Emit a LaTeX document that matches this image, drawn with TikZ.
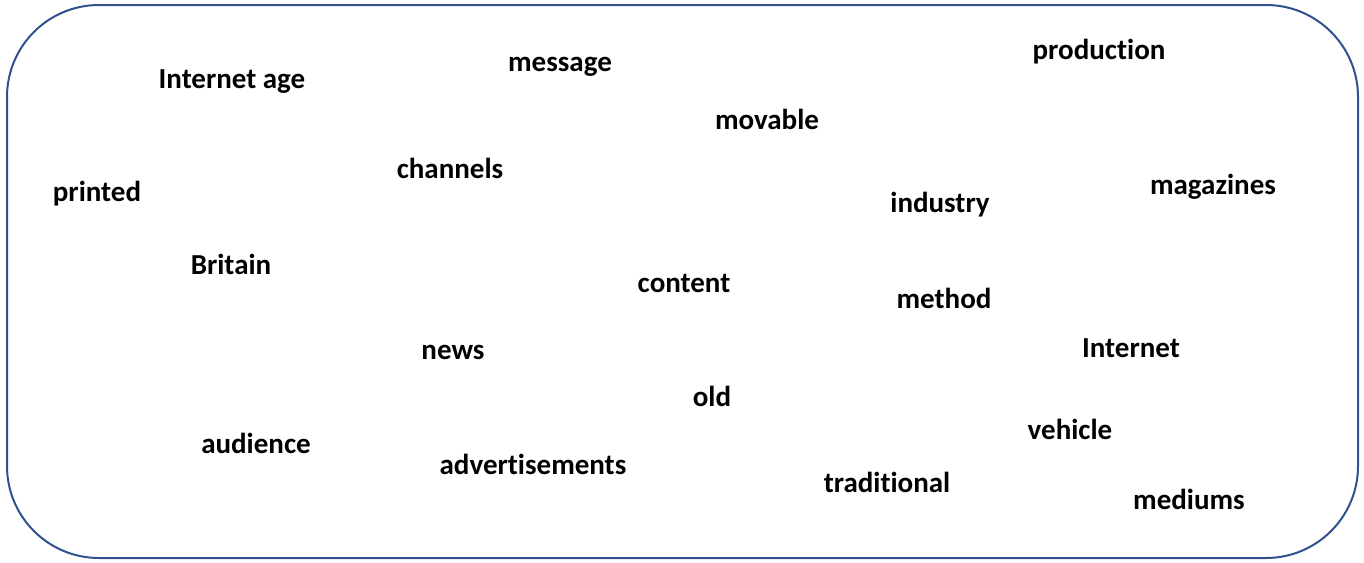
\documentclass[tikz,border=0pt]{standalone}
\usepackage{fontspec}
\setmainfont{Carlito}[Ligatures=NoCommon]
\usetikzlibrary{calc}

\definecolor{frameblue}{RGB}{47,82,143}

\begin{document}
\begin{tikzpicture}[x=1pt,y=-1pt]

		\tikzset{WordStyle/.style =
				{inner sep=0pt, text height=18pt, text depth=0pt,
				 font=\fontsize{29}{34}\selectfont\bfseries, text=black}
		}

		%frame
		\useasboundingbox (0,0) rectangle (1364,562);
		\draw[color=frameblue, line width=2pt, rounded corners=92pt] (7,5) rectangle (1358,558);

		%words
		\node[WordStyle] (internetage) at (232,79) {Internet age};
		\node[WordStyle] (message) at (560,62) {message};
		\node[WordStyle] (production) at (1099,50) {production};
		\node[WordStyle] (movable) at (767,120) {movable};
		\node[WordStyle] (channels) at (450,169) {channels};
		\node[WordStyle] (printed) at (97,192) {printed};
		\node[WordStyle] (industry) at (940,203) {industry};
		\node[WordStyle] (magazines) at (1213,185) {magazines};
		\node[WordStyle] (britain) at (231,265) {Britain};
		\node[WordStyle] (content) at (684,283) {content};
		\node[WordStyle] (method) at (944,299) {method};
		\node[WordStyle] (news) at (453,350) {news};
		\node[WordStyle] (internet) at (1131,348) {Internet};
		\node[WordStyle] (old) at (712,397) {old};
		\node[WordStyle] (vehicle) at (1070,430) {vehicle};
		\node[WordStyle] (audience) at (256,444) {audience};
		\node[WordStyle] (advertisements) at (533,465) {advertisements};
		\node[WordStyle] (traditional) at (887,483) {traditional};
		\node[WordStyle] (mediums) at (1189,500) {mediums};

	\end{tikzpicture}
\end{document}
